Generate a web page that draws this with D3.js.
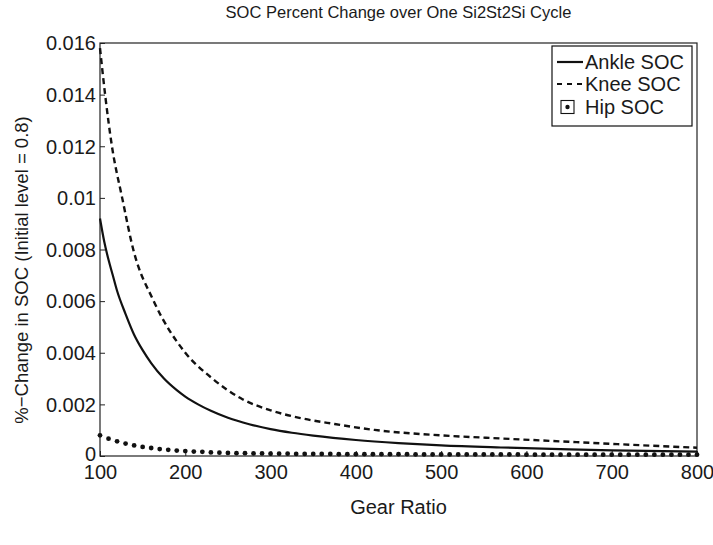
<!DOCTYPE html>
<html>
<head>
<meta charset="utf-8">
<script src="https://cdn.jsdelivr.net/npm/d3@7"></script>
<style>
  body { margin: 0; background: #fff; }
  svg text { font-family: "Liberation Sans", Arial, Helvetica, sans-serif; fill: #1a1a1a; }
</style>
</head>
<body>
<svg id="chart" width="713" height="545"></svg>
<script>
// tick labels
var xTicks = [100, 200, 300, 400, 500, 600, 700, 800];
var yTicks = [0, 0.002, 0.004, 0.006, 0.008, 0.01, 0.012, 0.014, 0.016];

// Ankle SOC
var ankleGear = [100, 105, 110, 115, 120, 130, 140, 150, 160, 175, 190, 200, 215, 230, 250, 275, 300, 325, 350,
                 400, 450, 500, 570, 650, 700, 800];
var ankleSOC  = [0.0092, 0.0083, 0.0076, 0.0070, 0.0064, 0.0055, 0.0047, 0.0041, 0.0036, 0.0030, 0.00255, 0.0023,
                 0.0020, 0.00175, 0.00148, 0.00123, 0.00104, 0.00090, 0.00079, 0.00062, 0.00050, 0.00041,
                 0.00033, 0.00026, 0.00022, 0.00017];

// Knee SOC
var kneeGear = [100, 106, 114, 126, 139, 163, 200, 230, 267, 300, 335, 375, 422, 500, 570, 650, 700, 800];
var kneeSOC  = [0.0158, 0.0140, 0.0120, 0.0100, 0.0080, 0.0060, 0.0040, 0.00305, 0.0022, 0.00177, 0.00147, 0.00124,
                0.00101, 0.00080, 0.00068, 0.00055, 0.00047, 0.00032];

// Hip SOC, one marker every 10
var hipGear = [100, 110, 120, 130, 140, 150, 160, 170, 180, 190,
               200, 210, 220, 230, 240, 250, 260, 270, 280, 290,
               300, 310, 320, 330, 340, 350, 360, 370, 380, 390,
               400, 410, 420, 430, 440, 450, 460, 470, 480, 490,
               500, 510, 520, 530, 540, 550, 560, 570, 580, 590,
               600, 610, 620, 630, 640, 650, 660, 670, 680, 690,
               700, 710, 720, 730, 740, 750, 760, 770, 780, 790, 800];
var hipSOC = [0.00080, 0.00067, 0.00057, 0.00048, 0.00041, 0.00035, 0.00031, 0.00027, 0.00024, 0.00021,
              0.00019, 0.00017, 0.00016, 0.00014, 0.00013, 0.00012, 0.00011, 0.00011, 0.00010, 0.00010,
              0.00009, 0.00009, 0.00009, 0.00008, 0.00008, 0.00008, 0.00008, 0.00008, 0.00007, 0.00007,
              0.00007, 0.00007, 0.00007, 0.00007, 0.00007, 0.00007, 0.00007, 0.00006, 0.00006, 0.00006,
              0.00006, 0.00006, 0.00006, 0.00006, 0.00006, 0.00006, 0.00006, 0.00006, 0.00006, 0.00006,
              0.00005, 0.00005, 0.00005, 0.00005, 0.00005, 0.00005, 0.00005, 0.00005, 0.00005, 0.00005,
              0.00005, 0.00005, 0.00005, 0.00005, 0.00005, 0.00005, 0.00005, 0.00005, 0.00005, 0.00005, 0.00005];

var legendNames = ["Ankle SOC", "Knee SOC", "Hip SOC"];

var svg = d3.select("#chart");
var plot = { left: 100, right: 697, top: 43, bottom: 456 };

var x = d3.scaleLinear().domain([100, 800]).range([plot.left, plot.right]);
var y = d3.scaleLinear().domain([0, 0.016]).range([plot.bottom, plot.top]);

svg.append("rect").attr("width", 713).attr("height", 545).attr("fill", "#fff");

// axes, ticks pointing inward
var xAxis = svg.append("g")
    .attr("transform", "translate(0," + plot.bottom + ")")
    .call(d3.axisBottom(x).tickValues(xTicks).tickSizeInner(-5).tickSizeOuter(0).tickPadding(9));
var yAxis = svg.append("g")
    .attr("transform", "translate(" + plot.left + ",0)")
    .call(d3.axisLeft(y).tickValues(yTicks).tickSizeInner(-5).tickSizeOuter(0).tickPadding(4)
        .tickFormat(function(d) { return d === 0 ? "0" : String(+d.toFixed(3)); }));
[xAxis, yAxis].forEach(function(a) {
    a.select(".domain").remove();
    a.selectAll("line").attr("stroke", "#222");
    a.selectAll("text").attr("font-size", 20).attr("fill", "#1a1a1a");
});
yAxis.selectAll("text").attr("dy", "0.34em");
// nudge the "0" label so it clears the "100" below it
yAxis.selectAll("text").filter(function(d) { return d === 0; }).attr("dy", "0.2em");

// box
svg.append("rect")
    .attr("x", plot.left).attr("y", plot.top)
    .attr("width", plot.right - plot.left).attr("height", plot.bottom - plot.top)
    .attr("fill", "none").attr("stroke", "#222").attr("stroke-width", 1.2);

var line = d3.line()
    .x(function(d) { return x(d[0]); })
    .y(function(d) { return y(d[1]); })
    .curve(d3.curveMonotoneX);

svg.append("path")
    .datum(d3.zip(kneeGear, kneeSOC))
    .attr("d", line)
    .attr("fill", "none").attr("stroke", "#111").attr("stroke-width", 2.4)
    .attr("stroke-dasharray", "6,4");

svg.append("path")
    .datum(d3.zip(ankleGear, ankleSOC))
    .attr("d", line)
    .attr("fill", "none").attr("stroke", "#111").attr("stroke-width", 2.2);

svg.append("g").selectAll("circle")
    .data(d3.zip(hipGear, hipSOC))
    .join("circle")
    .attr("cx", function(d) { return x(d[0]); })
    .attr("cy", function(d) { return y(d[1]); })
    .attr("r", 2.4)
    .attr("fill", "#111");

// title and axis labels
svg.append("text")
    .attr("x", (plot.left + plot.right) / 2).attr("y", 18)
    .attr("text-anchor", "middle").attr("font-size", 16.5)
    .text("SOC Percent Change over One Si2St2Si Cycle");
svg.append("text")
    .attr("x", (plot.left + plot.right) / 2).attr("y", 514)
    .attr("text-anchor", "middle").attr("font-size", 20)
    .text("Gear Ratio");
svg.append("text")
    .attr("transform", "translate(28,270) rotate(-90)")
    .attr("text-anchor", "middle").attr("font-size", 18.5)
    .text("%\u2212Change in SOC (Initial level = 0.8)");

// legend
var lg = svg.append("g");
lg.append("rect")
    .attr("x", 552).attr("y", 46).attr("width", 140).attr("height", 80)
    .attr("fill", "#fff").attr("stroke", "#111").attr("stroke-width", 1.2);
var rowY = [62, 84, 107];
lg.append("line").attr("x1", 557).attr("x2", 583).attr("y1", rowY[0]).attr("y2", rowY[0])
    .attr("stroke", "#111").attr("stroke-width", 2.2);
lg.append("line").attr("x1", 557).attr("x2", 583).attr("y1", rowY[1]).attr("y2", rowY[1])
    .attr("stroke", "#111").attr("stroke-width", 2.2).attr("stroke-dasharray", "5,5");
lg.append("rect").attr("x", 561).attr("y", rowY[2] - 6.5).attr("width", 13).attr("height", 13)
    .attr("fill", "none").attr("stroke", "#111").attr("stroke-width", 1.1);
lg.append("circle").attr("cx", 567.5).attr("cy", rowY[2]).attr("r", 2.2).attr("fill", "#111");
lg.selectAll("text.leg")
    .data(legendNames)
    .join("text")
    .attr("class", "leg")
    .attr("x", 585)
    .attr("y", function(d, i) { return rowY[i] + 7; })
    .attr("font-size", 20)
    .text(function(d) { return d; });
</script>
</body>
</html>
